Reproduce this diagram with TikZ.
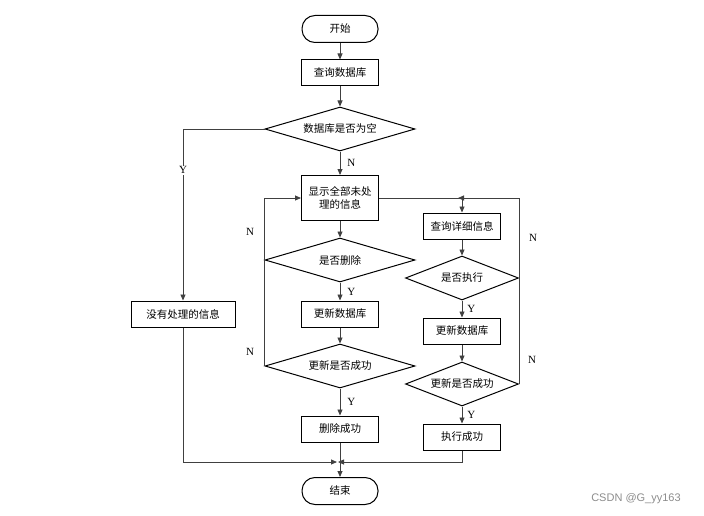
\documentclass[tikz,border=0pt]{standalone}
\usepackage{fontspec}
\setmainfont{Liberation Serif}
\newfontfamily\cjk{Noto Sans CJK SC}
\newfontfamily\wmfont{Liberation Sans}
\usetikzlibrary{shapes.geometric,arrows.meta}
\begin{document}
\begin{tikzpicture}[x=1pt,y=-1pt, >={Triangle[length=6pt,width=5pt]}]
\useasboundingbox (0,0) rectangle (704,516);
\tikzstyle{every node}=[font=\cjk\fontsize{10.5}{13}\selectfont]
\tikzstyle{term}=[draw,line width=1pt,rounded corners=13pt,minimum width=76pt,minimum height=27pt,inner sep=0pt]
\tikzstyle{proc}=[draw,line width=1pt,minimum width=77pt,minimum height=26pt,inner sep=0pt]
\tikzstyle{test}=[draw,line width=1pt,diamond,aspect=3.4,inner sep=0pt,minimum width=150pt,minimum height=44pt]
\tikzstyle{yn}=[font=\fontsize{11}{13}\selectfont,inner sep=1pt]
\tikzstyle{link}=[draw=black!75,line width=0.8pt]
% main column
\node[term](start) at (340,29) {开始};
\node[proc](query) at (340,73) {查询数据库};
\node[test](empty) at (340,129) {数据库是否为空};
\node[proc,minimum height=45pt,align=center](show) at (340,198) {显示全部未处\\理的信息};
\node[test](del) at (340,260) {是否删除};
\node[proc](upd1) at (340,314) {更新数据库};
\node[test](ok1) at (340,366) {更新是否成功};
\node[proc](delok) at (340,429) {删除成功};
\node[term](stop) at (340,491) {结束};
\node[proc,minimum width=104pt](none) at (183,314) {没有处理的信息};
% right column
\node[proc](inq) at (462,226) {查询详细信息};
\node[test,minimum width=113pt](exe) at (462,278) {是否执行};
\node[proc](upd2) at (462,331) {更新数据库};
\node[test,minimum width=113pt](ok2) at (462,384) {更新是否成功};
\node[proc](done) at (462,437) {执行成功};
\coordinate(top) at (462,198);
\coordinate(join) at (340,462);
\draw[link,->] (start) -- (query);
\draw[link,->] (query) -- (empty);
\draw[link,->] (empty) -- node[yn,right,xshift=6pt]{N} (show);
\draw[link,->] (empty.west) -| node[yn,fill=white,pos=0.62]{Y} (none.north);
\draw[link,->] (show) -- (del);
\draw[link,->] (del) -- node[yn,right,xshift=6pt]{Y} (upd1);
\draw[link,->] (upd1) -- (ok1);
\draw[link,->] (ok1) -- node[yn,right,xshift=6pt]{Y} (delok);
\draw[link,->] (ok1.west) |- (show.west);
\draw[link,->] (delok) -- (stop);
\node[yn] (n1) at (250,232) {N};
\node[yn] (n2) at (250,352) {N};
\draw[link] (show.east) -- (top);
\draw[link,->] (top) -- (inq);
\draw[link,->] (inq) -- (exe);
\draw[link,->] (exe) -- node[yn,right,xshift=4pt]{Y} (upd2);
\draw[link,->] (upd2) -- (ok2);
\draw[link,->] (ok2) -- node[yn,right,xshift=4pt]{Y} (done);
\draw[link,->,shorten >=-4pt] (ok2.east) |- (top);
\node[yn] (n3) at (533,238) {N};
\node[yn] (n4) at (532,360) {N};
\draw[link,->,shorten >=3pt] (none) |- (join);
\draw[link,->,shorten >=-2pt] (done) |- (join);
\node[font=\wmfont\fontsize{11}{13}\selectfont,text=black!45] (wm) at (636,499) {CSDN @G\_yy163};
\end{tikzpicture}
\end{document}
